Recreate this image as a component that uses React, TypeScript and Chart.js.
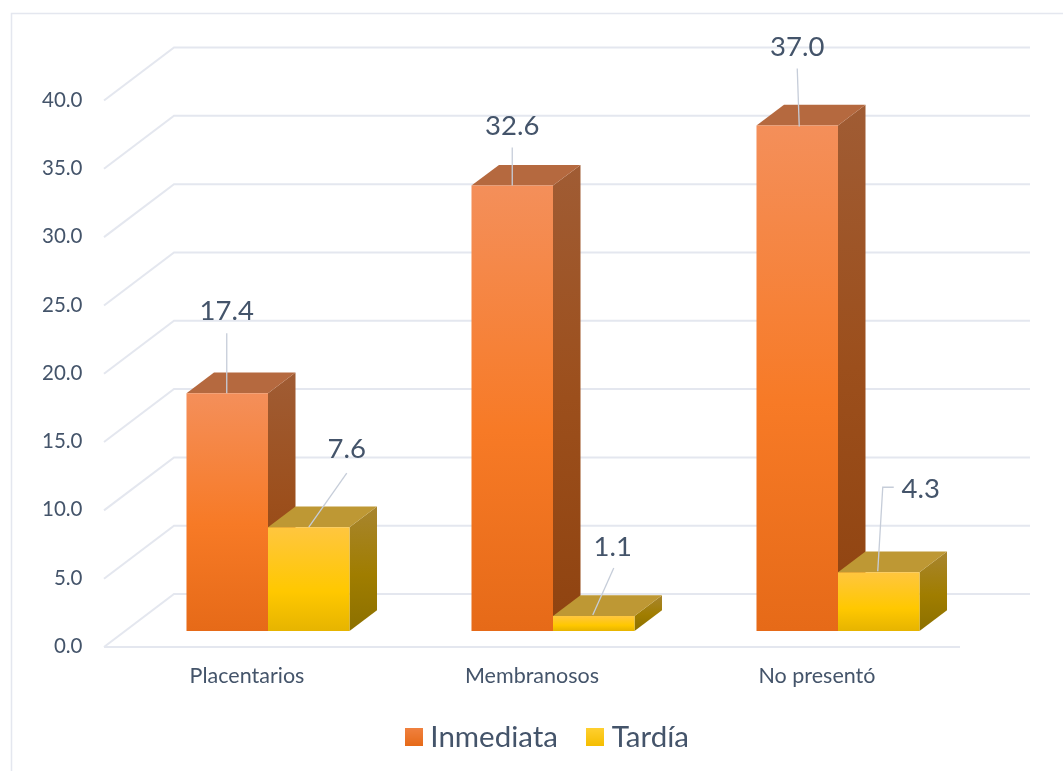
import React, { useEffect, useRef } from "react";
import { Chart, registerables } from "chart.js";

Chart.register(...registerables);

const categories = ["Placentarios", "Membranosos", "No presentó"];
const inmediata = [17.4, 32.6, 37.0];
const tardia = [7.6, 1.1, 4.3];
const yMax = 40;
const yStep = 5;

const FONT = "Lato";
const TEXT = "#44546A";
const GRID = "#E4E7EF";
const LEADER = "#C6CDD9";

// Projection of the 3D look, in pixels.
const BAR_DEPTH = { dx: 27.5, dy: 20.7 };
const WALL_FRONT = { x: 104, dy: 16 };
const WALL_BACK = { x: 174, dy: -37 };
const FLOOR_END = { front: 960, back: 1030 };
const LEGEND_SHIFT = { x: 60, y: -9 };
const SWATCH = 18;

// Where each value label and its leader sit, relative to the bar's top centre.
type Callout = { label: [number, number]; path: [number, number][] };
const inmediataCallouts: Callout[] = [
  { label: [-0.5, -82], path: [[-0.5, -60], [-0.5, 0]] },
  { label: [0, -59], path: [[0, -38], [0, 0]] },
  { label: [0, -78], path: [[0, -57], [2, 1]] },
];
const tardiaCallouts: Callout[] = [
  { label: [38, -78], path: [[38, -54], [0, 0]] },
  { label: [19, -69], path: [[20, -48], [-1, -1]] },
  { label: [42, -83], path: [[15, -85], [4, -85], [-1, -1]] },
];

const palette = [
  {
    front: [[0, "#F48F5A"], [0.55, "#F77A26"], [1, "#E66A18"]],
    side: [[0, "#A05C34"], [0.5, "#9C4F1C"], [1, "#8F4310"]],
    top: "#B5693F",
    swatch: [[0, "#F0813F"], [1, "#E66A18"]],
  },
  {
    front: [[0, "#FFC63F"], [0.62, "#FFC800"], [1, "#E6B400"]],
    side: [[0, "#A8852F"], [0.55, "#A07D00"], [1, "#8C7000"]],
    top: "#BE9834",
    swatch: [[0, "#FFD030"], [1, "#F5BE00"]],
  },
];

function gradient(ctx: CanvasRenderingContext2D, y0: number, y1: number, stops: any[]) {
  const g = ctx.createLinearGradient(0, y0, 0, y1);
  stops.forEach(([at, colour]) => g.addColorStop(at, colour));
  return g;
}

function swatchImage(stops: any[]) {
  const image = document.createElement("canvas");
  image.width = SWATCH;
  image.height = SWATCH;
  const ctx = image.getContext("2d") as CanvasRenderingContext2D;
  ctx.fillStyle = gradient(ctx, 0, SWATCH, stops);
  ctx.fillRect(0, 0, SWATCH, SWATCH);
  return image;
}

const frontFill = (series: number) => (c: any) => {
  const stops = palette[series].front;
  if (c.type !== "data" || !c.chart.chartArea) return stops[1][1];
  const y = c.chart.scales.y;
  return gradient(c.chart.ctx, y.getPixelForValue(c.raw), y.getPixelForValue(0), stops);
};

// Chart frame and the receding wall and floor lines, driven by the value axis.
const wallPlugin = {
  id: "wall",
  afterLayout(chart: any) {
    const legend = chart.legend;
    legend.left += LEGEND_SHIFT.x;
    legend.right += LEGEND_SHIFT.x;
    legend.top += LEGEND_SHIFT.y;
    legend.bottom += LEGEND_SHIFT.y;
  },
  beforeDraw(chart: any) {
    const { ctx, width, height } = chart;
    ctx.save();
    ctx.fillStyle = "#FFFFFF";
    ctx.fillRect(0, 0, width, height);
    ctx.strokeStyle = GRID;
    ctx.lineWidth = 1.5;
    ctx.beginPath();
    ctx.moveTo(11.5, height);
    ctx.lineTo(11.5, 13.5);
    ctx.lineTo(width, 13.5);
    ctx.stroke();
    ctx.restore();
  },
  beforeDatasetsDraw(chart: any) {
    const { ctx } = chart;
    const scale = chart.scales.y;
    ctx.save();
    ctx.strokeStyle = GRID;
    ctx.lineWidth = 2;
    scale.ticks.forEach((tick: any) => {
      const y = scale.getPixelForValue(tick.value);
      ctx.beginPath();
      ctx.moveTo(WALL_FRONT.x, y + WALL_FRONT.dy);
      ctx.lineTo(WALL_BACK.x, y + WALL_BACK.dy);
      ctx.lineTo(FLOOR_END.back, y + WALL_BACK.dy);
      ctx.stroke();
    });
    const y0 = scale.getPixelForValue(0) + WALL_FRONT.dy;
    ctx.beginPath();
    ctx.moveTo(WALL_FRONT.x, y0);
    ctx.lineTo(FLOOR_END.front, y0);
    ctx.stroke();
    ctx.restore();
  },
};

// Side and top faces of every bar; the library's own bars paint the front faces over them.
const depthPlugin = {
  id: "depth",
  beforeDatasetsDraw(chart: any) {
    const { ctx } = chart;
    const { dx, dy } = BAR_DEPTH;
    ctx.save();
    categories.forEach((_, index) => {
      chart.data.datasets.forEach((_d: any, series: number) => {
        const bar = chart.getDatasetMeta(series).data[index];
        const half = bar.width / 2;
        const left = bar.x - half;
        const right = bar.x + half;
        const top = bar.y;
        const base = bar.base;
        ctx.fillStyle = gradient(ctx, top - dy, base, palette[series].side);
        ctx.beginPath();
        ctx.moveTo(right, top);
        ctx.lineTo(right + dx, top - dy);
        ctx.lineTo(right + dx, base - dy);
        ctx.lineTo(right, base);
        ctx.closePath();
        ctx.fill();
        ctx.fillStyle = palette[series].top;
        ctx.beginPath();
        ctx.moveTo(left, top);
        ctx.lineTo(left + dx, top - dy);
        ctx.lineTo(right + dx, top - dy);
        ctx.lineTo(right, top);
        ctx.closePath();
        ctx.fill();
      });
    });
    ctx.restore();
  },
};

// Value labels with their leader lines.
const calloutPlugin = {
  id: "callouts",
  afterDatasetsDraw(chart: any) {
    const { ctx } = chart;
    const sets = [inmediataCallouts, tardiaCallouts];
    ctx.save();
    chart.data.datasets.forEach((dataset: any, series: number) => {
      chart.getDatasetMeta(series).data.forEach((bar: any, index: number) => {
        const callout = sets[series][index];
        ctx.strokeStyle = LEADER;
        ctx.lineWidth = 1.3;
        ctx.beginPath();
        callout.path.forEach(([dx, dy], i) => {
          if (i === 0) ctx.moveTo(bar.x + dx, bar.y + dy);
          else ctx.lineTo(bar.x + dx, bar.y + dy);
        });
        ctx.stroke();
        ctx.fillStyle = TEXT;
        ctx.font = `27.5px ${FONT}`;
        ctx.textAlign = "center";
        ctx.textBaseline = "middle";
        ctx.fillText(
          dataset.data[index].toFixed(1),
          bar.x + callout.label[0],
          bar.y + callout.label[1],
        );
      });
    });
    ctx.restore();
  },
};

export default function App() {
  const ref = useRef<HTMLCanvasElement>(null);

  useEffect(() => {
    const chart = new Chart(ref.current as HTMLCanvasElement, {
      type: "bar",
      data: {
        labels: categories,
        datasets: [
          { label: "Inmediata", data: inmediata, backgroundColor: frontFill(0) },
          { label: "Tardía", data: tardia, backgroundColor: frontFill(1) },
        ],
      },
      plugins: [wallPlugin, depthPlugin, calloutPlugin],
      options: {
        responsive: false,
        animation: false,
        categoryPercentage: 0.572,
        barPercentage: 1,
        layout: { padding: { top: 84.5, right: 82.5, left: 0, bottom: 0 } },
        scales: {
          x: {
            grid: { display: false, drawTicks: false },
            border: { display: false },
            afterFit(scale: any) {
              scale.height = 65.5;
            },
            ticks: {
              color: TEXT,
              font: { family: FONT, size: 21.5 },
              padding: 32.5,
              labelOffset: -21,
              maxRotation: 0,
              autoSkip: false,
            },
          },
          y: {
            min: 0,
            max: yMax,
            grid: { display: false, drawTicks: false },
            border: { display: false },
            afterFit(scale: any) {
              scale.width = 125.5;
            },
            ticks: {
              stepSize: yStep,
              color: TEXT,
              font: { family: FONT, size: 20.5 },
              padding: 43,
              labelOffset: 15.5,
              callback: (value: any) => Number(value).toFixed(1),
            },
          },
        },
        plugins: {
          tooltip: { enabled: false },
          legend: {
            position: "bottom",
            labels: {
              color: TEXT,
              font: { family: FONT, size: 29.5 },
              usePointStyle: true,
              boxWidth: 4,
              boxHeight: SWATCH,
              padding: 35,
              generateLabels: (c: any) =>
                c.data.datasets.map((d: any, i: number) => ({
                  text: d.label,
                  datasetIndex: i,
                  fontColor: TEXT,
                  lineWidth: 0,
                  strokeStyle: "transparent",
                  pointStyle: swatchImage(palette[i].swatch),
                })),
            },
          },
        },
      } as any,
    });
    return () => chart.destroy();
  }, []);

  return (
    <div style={{ position: "absolute", left: 0, top: 0 }}>
      <canvas ref={ref} width={1063} height={771} style={{ display: "block" }} />
    </div>
  );
}
